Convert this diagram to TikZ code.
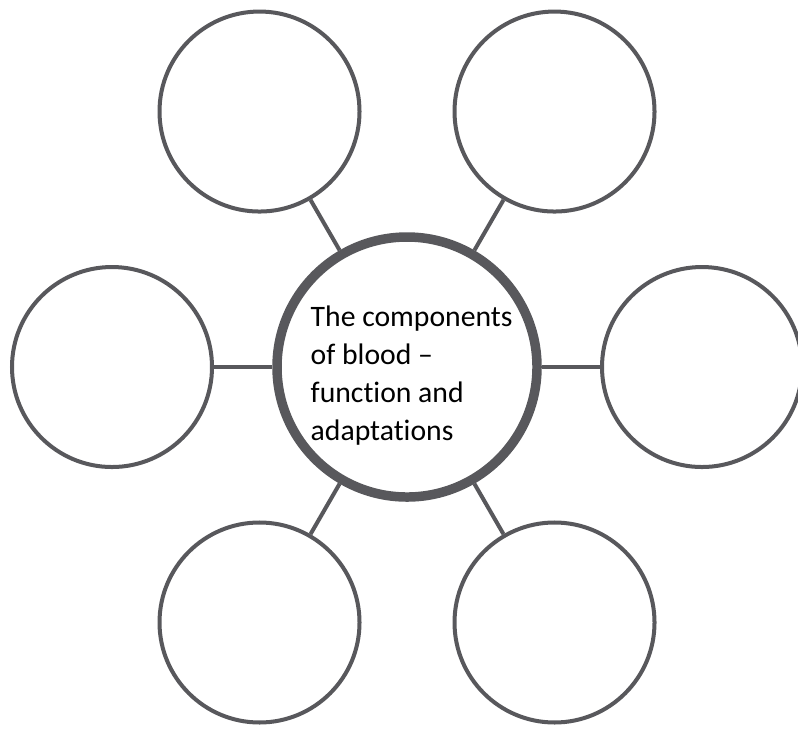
\documentclass[tikz,border=0pt]{standalone}
\usepackage{fontspec}
\setmainfont{Carlito}[Ligatures={TeX,NoCommon}]
\usetikzlibrary{calc}
\definecolor{rimgray}{RGB}{88,88,92}

\begin{document}
\begin{tikzpicture}[x=1cm, y=1cm,
  hub/.style={circle, draw=rimgray, line width=2.7pt, minimum size=2.6cm, inner sep=0pt},
  leaf/.style={circle, draw=rimgray, line width=1.14pt, minimum size=2.0cm, inner sep=0pt},
  spoke/.style={draw=rimgray, line width=1.14pt}]
  \useasboundingbox (0,0) rectangle (7.98,7.29);
  \node[hub] (hub) at (4.07,3.62) {};
  \node[leaf] (right) at ($(hub)+(0:2.95)$) {};
  \node[leaf] (topright) at ($(hub)+(60:2.95)$) {};
  \node[leaf] (topleft) at ($(hub)+(120:2.95)$) {};
  \node[leaf] (left) at ($(hub)+(180:2.95)$) {};
  \node[leaf] (bottomleft) at ($(hub)+(240:2.95)$) {};
  \node[leaf] (bottomright) at ($(hub)+(300:2.95)$) {};
  \draw[spoke] (hub) -- (right);
  \draw[spoke] (hub) -- (topright);
  \draw[spoke] (hub) -- (topleft);
  \draw[spoke] (hub) -- (left);
  \draw[spoke] (hub) -- (bottomleft);
  \draw[spoke] (hub) -- (bottomright);
  \node[font=\fontsize{8.45}{10.8}\selectfont, align=left, anchor=north west, inner sep=0pt] (title) at (3.10,4.24)
    {The components\\of blood --\\function and\\adaptations};
\end{tikzpicture}
\end{document}
